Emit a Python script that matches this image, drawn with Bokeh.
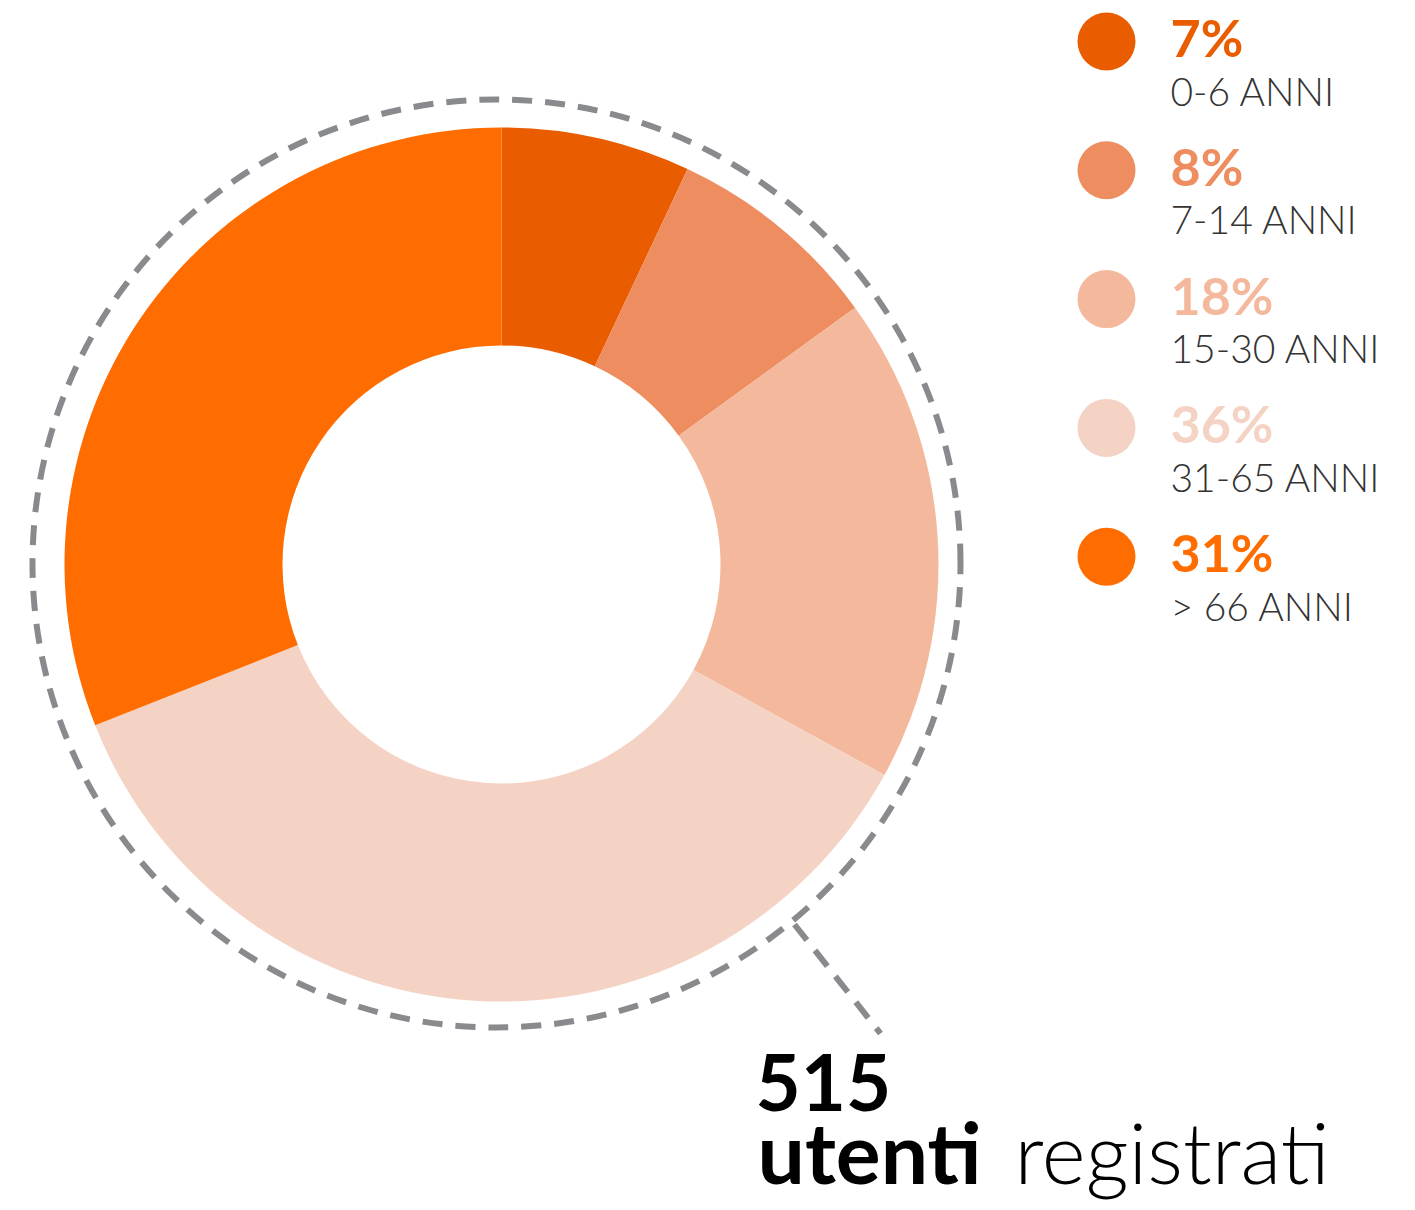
import math
from bokeh.plotting import figure
from bokeh.models import Range1d
from bokeh.core.properties import value
from bokeh.embed import file_html
from bokeh.resources import INLINE

# ---- data ----
age_groups = ["0-6 ANNI", "7-14 ANNI", "15-30 ANNI", "31-65 ANNI", "> 66 ANNI"]
shares = [7, 8, 18, 36, 31]
colors = ["#EA5C00", "#EE8D60", "#F4B99C", "#F5D3C4", "#FF6D00"]
total_users = 515
caption_bold = "utenti"
caption_light = "registrati"

W, H = 1407, 1202
def X(px):
    return px
def Y(py):
    return H - py
def TB(baseline_px, fs):
    # compensate for the svg text baseline offset
    return Y(baseline_px - 0.355 * fs)

p = figure(width=W, height=H, x_range=Range1d(0, W), y_range=Range1d(0, H),
           output_backend="svg", toolbar_location=None, min_border=0)
p.axis.visible = False
p.grid.visible = False
p.outline_line_color = None
p.background_fill_color = "white"
p.border_fill_color = "white"

# donut
cx, cy = X(501), Y(564)
r_out, r_in = 437, 219
tot = sum(shares)
cum = 0
starts, ends = [], []
for s in shares:
    starts.append(math.pi / 2 - 2 * math.pi * cum / tot)
    cum += s
    ends.append(math.pi / 2 - 2 * math.pi * cum / tot)
p.annular_wedge(x=[cx] * len(shares), y=[cy] * len(shares), inner_radius=r_in, outer_radius=r_out,
                start_angle=starts, end_angle=ends, direction="clock",
                fill_color=colors, line_color=None)

# dashed ring and leader
p.arc(x=X(496), y=Y(563), radius=464, start_angle=0, end_angle=2 * math.pi,
      line_color="#898A8D", line_width=6, line_dash="20 13")
p.line(x=[X(794), X(880)], y=[Y(924), Y(1033)], line_color="#898A8D", line_width=6, line_dash="20 13")

# legend
step = 128.8
pfs, lfs = 52, 39
for i, (lab, s, c) in enumerate(zip(age_groups, shares, colors)):
    p.scatter(x=[X(1106)], y=[Y(41 + step * i)], size=58, fill_color=c, line_color=None)
    p.text(x=[X(1170)], y=[TB(55 + step * i, pfs)], text=[f"{s}%"], text_color=c,
           text_font=value("Lato"), text_font_style="bold", text_font_size=f"{pfs}px",
           text_baseline="alphabetic", text_align="left")
    p.text(x=[X(1170)], y=[TB(104 + step * i, lfs)], text=[lab], text_color="#333333",
           text_font=value("Lato Light"), text_font_size=f"{lfs}px",
           text_baseline="alphabetic", text_align="left")

# caption
nfs, cfs = 78, 84
p.text(x=[X(755)], y=[TB(1110, nfs)], text=[str(total_users)], text_color="#000000",
       text_font=value("Lato"), text_font_style="bold", text_font_size=f"{nfs}px",
       text_baseline="alphabetic", text_align="left")
p.text(x=[X(757)], y=[TB(1181, cfs)], text=[caption_bold], text_color="#000000",
       text_font=value("Lato"), text_font_style="bold", text_font_size=f"{cfs}px",
       text_baseline="alphabetic", text_align="left")
p.text(x=[X(1014)], y=[TB(1181, cfs)], text=[caption_light], text_color="#000000",
       text_font=value("Lato Light"), text_font_size=f"{cfs}px",
       text_baseline="alphabetic", text_align="left")

open("out.html", "w").write(file_html(p, INLINE))
